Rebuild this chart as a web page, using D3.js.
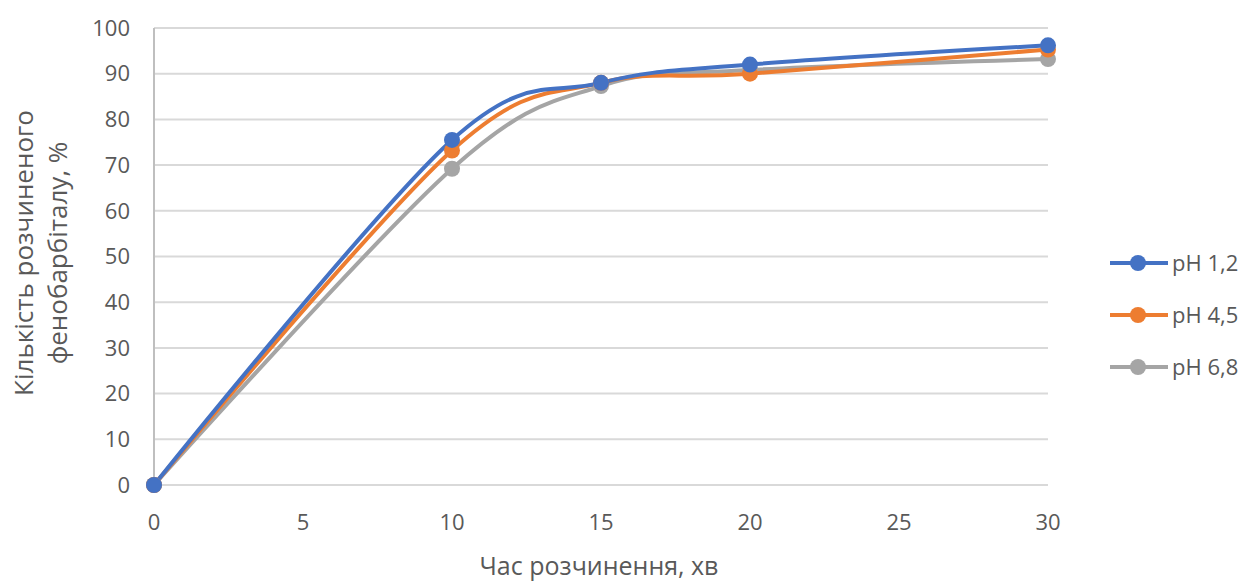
<!DOCTYPE html>
<html>
<head>
<meta charset="utf-8">
<script src="https://cdn.jsdelivr.net/npm/d3@7"></script>
<style>
  body { margin: 0; background: #fff; }
  svg { font-family: "Open Sans", sans-serif; }
</style>
</head>
<body>
<svg id="chart" width="1251" height="585"></svg>
<script>
"use strict";
const times = [0, 10, 15, 20, 30];
const ph12 = [0, 75.5, 88, 92, 96.2];
const ph45 = [0, 73.2, 88, 90, 95.3];
const ph68 = [0, 69.2, 87.3, 90.8, 93.2];
const seriesNames = ["pH 1,2", "pH 4,5", "pH 6,8"];
const colors = ["#4472C4", "#ED7D31", "#A5A5A5"];
const xTicks = [0, 5, 10, 15, 20, 25, 30];
const yTicks = [0, 10, 20, 30, 40, 50, 60, 70, 80, 90, 100];

const svg = d3.select('#chart');
const x = d3.scaleLinear().domain([0, 30]).range([154, 1048]);
const y = d3.scaleLinear().domain([0, 100]).range([485, 28]);

// gridlines
svg.append('g')
    .selectAll('line')
    .data(yTicks)
    .enter()
    .append('line')
    .attr('x1', x(0)).attr('x2', x(30))
    .attr('y1', d => y(d)).attr('y2', d => y(d))
    .attr('stroke', '#d9d9d9')
    .attr('stroke-width', 2);

svg.append('line')
    .attr('x1', x(0)).attr('x2', x(0))
    .attr('y1', y(0)).attr('y2', y(100))
    .attr('stroke', '#bfbfbf')
    .attr('stroke-width', 2);

// axes labels
svg.append('g')
    .selectAll('text')
    .data(yTicks)
    .enter()
    .append('text')
    .attr('x', 130)
    .attr('y', d => y(d))
    .attr('dy', '0.35em')
    .attr('text-anchor', 'end')
    .attr('fill', '#595959')
    .style('font-size', '22px')
    .text(d => d);

svg.append('g')
    .selectAll('text')
    .data(xTicks)
    .enter()
    .append('text')
    .attr('x', d => x(d))
    .attr('y', 522)
    .attr('dy', '0.35em')
    .attr('text-anchor', 'middle')
    .attr('fill', '#595959')
    .style('font-size', '22px')
    .text(d => d);

svg.append('text')
    .attr('x', x(15) - 2)
    .attr('y', 566)
    .attr('dy', '0.35em')
    .attr('text-anchor', 'middle')
    .attr('fill', '#595959')
    .style('font-size', '25px')
    .text('Час розчинення, хв');

const yTitle = svg.append('text')
    .attr('transform', 'translate(0,253) rotate(-90)')
    .attr('text-anchor', 'middle')
    .attr('fill', '#595959')
    .style('font-size', '26px');
yTitle.append('tspan').attr('x', 0).attr('y', 24).attr('dy', '0.35em').text('Кількість розчиненого');
yTitle.append('tspan').attr('x', 0).attr('y', 58).attr('dy', '0.35em').text('фенобарбіталу, %');

// series
const data = [ph12, ph45, ph68];
const line = d3.line()
    .x((d, i) => x(times[i]))
    .y(d => y(d))
    .curve(d3.curveCardinal.tension(0));

const order = [2, 1, 0];
order.forEach(k => {
    svg.append('path')
        .datum(data[k])
        .attr('d', line)
        .attr('fill', 'none')
        .attr('stroke', colors[k])
        .attr('stroke-width', 4)
        .attr('stroke-linecap', 'round');
});
order.forEach(k => {
    svg.append('g')
        .selectAll('circle')
        .data(data[k])
        .enter()
        .append('circle')
        .attr('cx', (d, i) => x(times[i]))
        .attr('cy', d => y(d))
        .attr('r', 8)
        .attr('fill', colors[k]);
});

// legend
const legend = svg.append('g')
    .selectAll('g')
    .data(seriesNames)
    .enter()
    .append('g')
    .attr('transform', (d, i) => `translate(0,${263 + i * 52})`);
legend.append('line')
    .attr('x1', 1110).attr('x2', 1168)
    .attr('stroke', (d, i) => colors[i])
    .attr('stroke-width', 4);
legend.append('circle')
    .attr('cx', 1138).attr('r', 8)
    .attr('fill', (d, i) => colors[i]);
legend.append('text')
    .attr('x', 1172)
    .attr('dy', '0.35em')
    .attr('fill', '#595959')
    .style('font-size', '22px')
    .text(d => d);
</script>
</body>
</html>
